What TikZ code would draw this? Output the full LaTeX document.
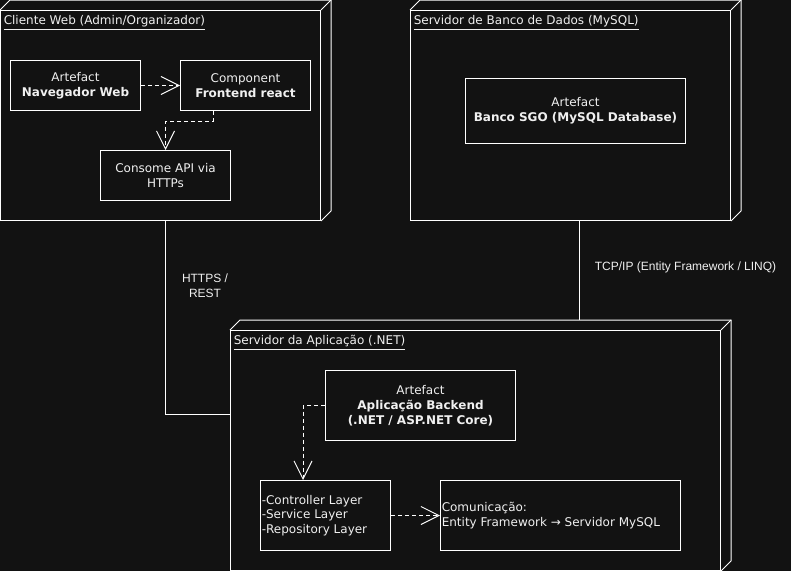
\documentclass[tikz,border=0pt]{standalone}
\usepackage{fontspec}
\setmainfont{DejaVu Sans}
\newfontfamily\lblfont{Liberation Sans}
\usetikzlibrary{arrows.meta,calc}
\definecolor{bgc}{RGB}{18,18,18}
\definecolor{fg}{RGB}{240,240,240}
\tikzset{
  pxsize/.style 2 args={minimum width=#1*0.75pt, minimum height=#2*0.75pt},
  front/.style={draw=white, line width=0.75pt, fill=bgc, inner sep=0pt, rectangle},
  box/.style={draw=white, line width=0.75pt, fill=bgc, inner sep=0pt, rectangle, align=center,
    text=fg, font=\fontsize{9}{11.25}\selectfont},
  ttl/.style={anchor=base west, inner sep=0pt, text=fg, font=\fontsize{9}{11.25}\selectfont},
  side/.style={draw=white, line width=0.75pt, line join=miter},
  dep/.style={draw=white, line width=0.75pt, dash pattern=on 3pt off 2.25pt,
    -{Straight Barb[length=13.5pt,width=13.5pt,line width=0.75pt]}},
  conn/.style={draw=white, line width=0.75pt},
  lbl/.style={text=fg, inner sep=0pt, align=center, font=\lblfont\fontsize{9}{11.25}\selectfont},
  lefttext/.style={anchor=west, inner sep=0pt, align=left, text=fg, font=\fontsize{9}{10.9}\selectfont}
}
\begin{document}
\begin{tikzpicture}[x=0.75pt,y=-0.75pt]
\fill[bgc] (0,0) rectangle (791,571);
\useasboundingbox (0,0) rectangle (791,571);

% ---- Cliente Web node
\node[front, pxsize={320}{210}] (cw) at (160.5,115.5) {};
\draw[side] (cw.north west) -- ++(10,-10) -- ($(cw.north east)+(10,-10)$) -- ($(cw.south east)+(10,-10)$) -- (cw.south east);
\draw[side] (cw.north east) -- ++(10,-10);
\node[ttl] (cwt) at ($(cw.north west)+(3.5,14.5)$) {\underline{Cliente Web (Admin/Organizador)}};

\node[box, pxsize={130}{50}] (nav) at (75.5,85.5) {Artefact\\\textbf{Navegador Web}};
\node[box, pxsize={130}{50}] (comp) at (245.5,85.5) {Component\\\textbf{Frontend react}};
\node[box, pxsize={130}{50}] (cons) at (165.5,175.5) {Consome API via\\HTTPs};

\draw[dep] (nav) -- (comp);
\draw[dep] ($(comp.south west)+(33,0)$) -- ++(0,10) -| (cons.north);

% ---- Banco node
\node[front, pxsize={320}{210}] (bd) at (570.5,115.5) {};
\draw[side] (bd.north west) -- ++(10,-10) -- ($(bd.north east)+(10,-10)$) -- ($(bd.south east)+(10,-10)$) -- (bd.south east);
\draw[side] (bd.north east) -- ++(10,-10);
\node[ttl] (bdt) at ($(bd.north west)+(3.5,14.5)$) {\underline{Servidor de Banco de Dados (MySQL)}};

\node[box, pxsize={220}{65}] (sgo) at (575.5,110.5) {Artefact\\\textbf{Banco SGO (MySQL Database)}};

% ---- App node
\node[front, pxsize={490}{240}] (app) at (475.5,450.5) {};
\draw[side] (app.north west) -- ++(10,-10) coordinate (appback) -- ($(app.north east)+(10,-10)$) -- ($(app.south east)+(10,-10)$) -- (app.south east);
\draw[side] (app.north east) -- ++(10,-10);
\node[ttl] (appt) at ($(app.north west)+(3.5,14.5)$) {\underline{Servidor da Aplicação (.NET)}};

\node[box, pxsize={190}{70}] (be) at (420.5,405.5) {Artefact\\\textbf{Aplicação Backend}\\\textbf{(.NET / ASP.NET Core)}};
\node[box, pxsize={130}{70}] (lay) at (325.5,515.5) {};
\node[lefttext] (layt) at ($(lay.west)+(1.5,0)$) {-Controller Layer\\-Service Layer\\-Repository Layer};
\node[box, pxsize={240}{70}] (com) at (560.5,515.5) {};
\node[lefttext] (comt) at ($(com.west)+(1.5,0)$) {Comunicação:\\Entity Framework → Servidor MySQL};

\draw[dep] (be.west) -| ($(lay.north west)+(43,0)$);
\draw[dep] (lay) -- (com);

% ---- connectors between nodes
\draw[conn] (cw.south -| cons.center) |- ($(app.north west)+(0,84)$);
\draw[conn] ($(bd.south west)+(169.5,0)$) coordinate (bs) -- (bs |- appback);

\node[lbl] (l1) at (205,285.5) {HTTPS /\\REST};
\node[lbl] (l2) at (685.5,267.5) {TCP/IP (Entity Framework / LINQ)};
\end{tikzpicture}
\end{document}
